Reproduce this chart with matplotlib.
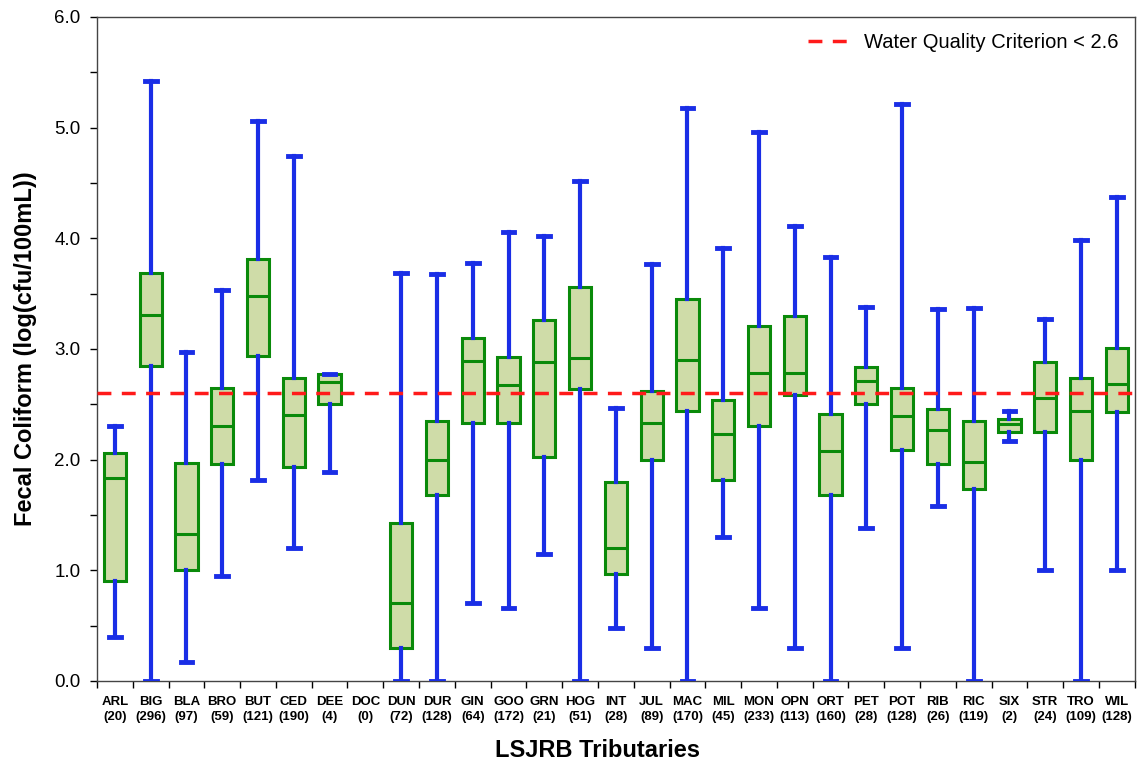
import matplotlib
matplotlib.use("Agg")
import matplotlib.pyplot as plt
from matplotlib.ticker import MultipleLocator, FixedLocator

plt.rcParams['font.family'] = ['Liberation Sans', 'DejaVu Sans']

sites = ["ARL", "BIG", "BLA", "BRO", "BUT", "CED", "DEE", "DOC", "DUN", "DUR",
         "GIN", "GOO", "GRN", "HOG", "INT", "JUL", "MAC", "MIL", "MON", "OPN",
         "ORT", "PET", "POT", "RIB", "RIC", "SIX", "STR", "TRO", "WIL"]
counts = [20, 296, 97, 59, 121, 190, 4, 0, 72, 128,
          64, 172, 21, 51, 28, 89, 170, 45, 233, 113,
          160, 28, 128, 26, 119, 2, 24, 109, 128]

# None = no samples
whisk_lo = [0.40, 0.0, 0.17, 0.95, 1.82, 1.20, 1.89, None, 0.0, 0.0,
            0.70, 0.66, 1.15, 0.0, 0.48, 0.30, 0.0, 1.30, 0.66, 0.30,
            0.0, 1.38, 0.30, 1.58, 0.0, 2.17, 1.00, 0.0, 1.00]
q1 = [0.90, 2.85, 1.00, 1.96, 2.94, 1.93, 2.50, None, 0.30, 1.68,
      2.33, 2.33, 2.02, 2.64, 0.97, 2.00, 2.44, 1.82, 2.30, 2.58,
      1.68, 2.50, 2.09, 1.96, 1.73, 2.25, 2.25, 2.00, 2.43]
median = [1.83, 3.31, 1.33, 2.30, 3.48, 2.40, 2.70, None, 0.70, 2.00,
          2.89, 2.67, 2.88, 2.92, 1.20, 2.33, 2.90, 2.23, 2.78, 2.78,
          2.08, 2.71, 2.39, 2.27, 1.98, 2.32, 2.56, 2.44, 2.68]
q3 = [2.06, 3.69, 1.97, 2.65, 3.81, 2.74, 2.77, None, 1.43, 2.35,
      3.10, 2.93, 3.26, 3.56, 1.80, 2.62, 3.45, 2.54, 3.21, 3.30,
      2.41, 2.84, 2.65, 2.46, 2.35, 2.37, 2.88, 2.74, 3.01]
whisk_hi = [2.30, 5.42, 2.97, 3.53, 5.06, 4.74, 2.77, None, 3.69, 3.68,
            3.78, 4.06, 4.02, 4.52, 2.47, 3.77, 5.18, 3.91, 4.96, 4.11,
            3.83, 3.38, 5.21, 3.36, 3.37, 2.44, 3.27, 3.98, 4.37]

criterion = 2.6

green = "#0a8a0a"
fill = "#cfdca8"
blue = "#1a2ee6"

fig = plt.figure(figsize=(11.37, 7.66), dpi=100)
ax = fig.add_axes([0.0853, 0.111, 0.9127, 0.867])

stats = []
pos = []
for i, name in enumerate(sites):
    if median[i] is None:
        continue
    stats.append(dict(med=median[i], q1=q1[i], q3=q3[i],
                      whislo=whisk_lo[i], whishi=whisk_hi[i], fliers=[]))
    pos.append(i + 1)

ax.bxp(stats, positions=pos, widths=0.62, patch_artist=True, showfliers=False,
       boxprops=dict(facecolor=fill, edgecolor=green, linewidth=2.2),
       medianprops=dict(color=green, linewidth=2.2),
       whiskerprops=dict(color=blue, linewidth=3),
       capprops=dict(color=blue, linewidth=3.5),
       capwidths=0.33, zorder=3)

ax.axhline(criterion, color="#ff1a1a", linestyle=(0, (4, 3)), linewidth=2.5,
           zorder=4, label="Water Quality Criterion < {}".format(criterion))

ax.set_xlim(0.5, len(sites) + 0.5)
ax.set_ylim(0, 6)

ax.yaxis.set_major_locator(MultipleLocator(1.0))
ax.yaxis.set_minor_locator(MultipleLocator(0.5))
ax.yaxis.set_major_formatter(matplotlib.ticker.FormatStrFormatter("%.1f"))
ax.tick_params(axis="y", which="both", length=5, width=1, labelsize=13.5, pad=7)

ax.set_xticks(range(1, len(sites) + 1))
ax.set_xticklabels(["{}\n({})".format(s, n) for s, n in zip(sites, counts)],
                   fontsize=9.5, fontweight="bold", linespacing=1.35)
ax.xaxis.set_minor_locator(FixedLocator([k + 0.5 for k in range(len(sites) + 1)]))
ax.tick_params(axis="x", which="major", length=0, pad=11)
ax.tick_params(axis="x", which="minor", length=5, width=1)

for sp in ax.spines.values():
    sp.set_color("#444444")
    sp.set_linewidth(1)

ax.set_ylabel("Fecal Coliform (log(cfu/100mL))", fontsize=17, fontweight="bold")
ax.set_xlabel("LSJRB Tributaries", fontsize=17, fontweight="bold")
ax.yaxis.set_label_coords(-0.058, 0.5)
ax.xaxis.set_label_coords(0.482, -0.088)

ax.legend(loc="upper right", frameon=False, fontsize=14.5, handlelength=2.4,
          handletextpad=0.4, borderaxespad=0.4)

fig.savefig("out.png", dpi=100)
